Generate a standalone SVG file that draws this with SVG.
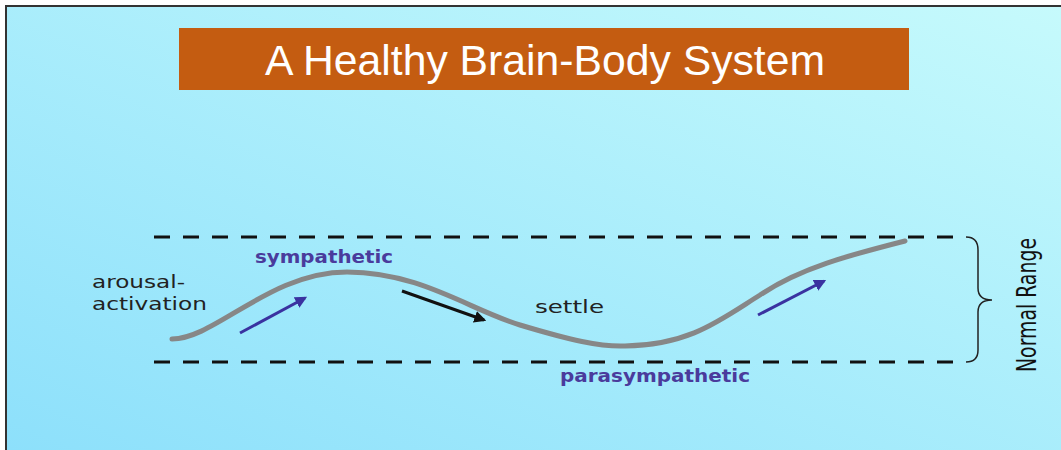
<svg xmlns="http://www.w3.org/2000/svg" width="1061" height="450" viewBox="0 0 1061 450">
<defs>
<linearGradient id="bg" x1="0" y1="1" x2="1" y2="0">
<stop offset="0" stop-color="#8de0fb"/>
<stop offset="1" stop-color="#c6fafc"/>
</linearGradient>
<marker id="ahBlue" viewBox="0 0 10 10" refX="8" refY="5" markerWidth="4" markerHeight="4" orient="auto" markerUnits="strokeWidth">
<path d="M0,0 L10,5 L0,10 Z" fill="#3a32a0"/>
</marker>
<marker id="ahBlack" viewBox="0 0 10 10" refX="8" refY="5" markerWidth="4" markerHeight="4" orient="auto" markerUnits="strokeWidth">
<path d="M0,0 L10,5 L0,10 Z" fill="#111"/>
</marker>
</defs>
<style>
.dash{stroke:#111;stroke-width:3;stroke-dasharray:16 13;fill:none}
.hand{font-family:"DejaVu Sans","Liberation Sans",sans-serif;font-size:17px;fill:#222}
.blue{font-family:"DejaVu Sans","Liberation Sans",sans-serif;font-size:17px;font-weight:bold;fill:#4a3b9c}
.arrowB{stroke:#3a32a0;stroke-width:3;fill:none;marker-end:url(#ahBlue)}
.arrowK{stroke:#111;stroke-width:3;fill:none;marker-end:url(#ahBlack)}
</style>
<rect x="0" y="0" width="1061" height="450" fill="#ffffff"/>
<rect x="6" y="6" width="1055" height="444" fill="url(#bg)"/>
<path d="M6,450 V6 H1061" stroke="#333" stroke-width="2" fill="none"/>

<g id="title">
<rect x="179" y="28" width="730" height="62" fill="#c45c11"/>
<text x="545" y="75" text-anchor="middle" font-family="Liberation Sans, Arial, sans-serif" font-size="42" fill="#ffffff" textLength="560" lengthAdjust="spacingAndGlyphs">A Healthy Brain-Body System</text>
</g>

<g id="range">
<line class="dash" x1="154" y1="237" x2="966" y2="237"/>
<line class="dash" x1="154" y1="362" x2="966" y2="362"/>
<path d="M966,237 Q978,237 978,250 V288 Q978,300 992,300 Q978,300 978,312 V350 Q978,362 966,362" stroke="#222" stroke-width="1.5" fill="none"/>
<text transform="translate(1036,305) rotate(-90)" text-anchor="middle" font-family="DejaVu Sans Condensed, DejaVu Sans, sans-serif" font-size="27" fill="#111" textLength="134" lengthAdjust="spacingAndGlyphs">Normal Range</text>
</g>

<g id="curve">
<path d="M172,339 C215,339 270,272 347,272 C420,272 470,310 520,325 C570,340 600,347 625,346 C690,345 720,320 760,295 C800,268 850,255 905,241" stroke="#878787" stroke-width="5" fill="none" stroke-linecap="round"/>
</g>

<g id="connectors">
<line class="arrowB" x1="240" y1="333" x2="305" y2="298"/>
<line class="arrowK" x1="402" y1="291" x2="484" y2="320"/>
<line class="arrowB" x1="758" y1="315" x2="824" y2="281"/>
</g>

<g id="labels">
<text class="hand" x="92" y="288" textLength="93" lengthAdjust="spacingAndGlyphs">arousal-</text>
<text class="hand" x="92" y="310" textLength="115" lengthAdjust="spacingAndGlyphs">activation</text>
<text class="blue" x="255" y="263" textLength="138" lengthAdjust="spacingAndGlyphs">sympathetic</text>
<text class="hand" x="535" y="313" textLength="69" lengthAdjust="spacingAndGlyphs">settle</text>
<text class="blue" x="560" y="382" textLength="190" lengthAdjust="spacingAndGlyphs">parasympathetic</text>
</g>
</svg>
